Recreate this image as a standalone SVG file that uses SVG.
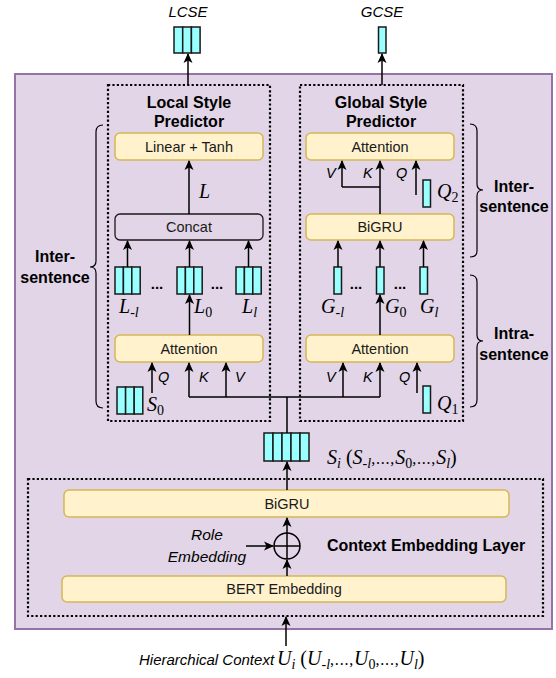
<svg xmlns="http://www.w3.org/2000/svg" width="556" height="678" viewBox="0 0 556 678">
<style>
.ybox{fill:#fff2cc;stroke:#d6b656;stroke-width:1.5}
.cbox{fill:none;stroke:#1a1a1a;stroke-width:1.3}
.vec{fill:#99ffff;stroke:#1a1a1a;stroke-width:1.5}
.dot{fill:none;stroke:#000;stroke-width:2.2;stroke-dasharray:2.2 2.2}
.ln{fill:none;stroke:#000;stroke-width:1.5}
.arr{marker-end:url(#ah)}
.br{fill:none;stroke:#000;stroke-width:1.2}
.t{font-family:"Liberation Sans",Arial,sans-serif;font-size:14.5px;fill:#1a1a1a;text-anchor:middle}
.b{font-family:"Liberation Sans",Arial,sans-serif;font-weight:bold;font-size:16px;fill:#000;text-anchor:middle}
.it{font-family:"Liberation Sans",Arial,sans-serif;font-style:italic;font-size:14.5px;fill:#000}
.m{font-family:"Liberation Serif","Times New Roman",serif;font-style:italic;font-size:20px;fill:#000}
.sub{font-size:14px}
.rm{font-style:normal}
.el{font-style:normal;font-size:16px;letter-spacing:0.8px}
</style>
<defs>
<marker id="ah" viewBox="0 0 10 10" refX="9" refY="5" markerWidth="10" markerHeight="10" markerUnits="userSpaceOnUse" orient="auto">
<path d="M0,0.5 L10,5 L0,9.5 L2.5,5 z" fill="#000"/>
</marker>
</defs>

<rect id="outer" x="15" y="74" width="537" height="555" fill="#e1d5e7" stroke="#9673a6" stroke-width="2"/>

<g id="local-style-predictor">
<rect class="dot" x="108" y="85" width="162" height="336"/>
<text class="b" x="189" y="108">Local Style</text>
<text class="b" x="189" y="127">Predictor</text>
</g>
<g id="global-style-predictor">
<rect class="dot" x="300" y="85" width="163" height="336"/>
<text class="b" x="381" y="108">Global Style</text>
<text class="b" x="381" y="127">Predictor</text>
</g>
<g id="context-embedding-layer">
<rect class="dot" x="28" y="479" width="515" height="137"/>
<text class="b" x="426" y="551">Context Embedding Layer</text>
</g>

<g id="lcse">
<text class="it" x="188" y="17" text-anchor="middle" style="font-size:15px">LCSE</text>
<rect class="vec" x="174" y="27" width="8.7" height="26"/>
<rect class="vec" x="182.7" y="27" width="8.7" height="26"/>
<rect class="vec" x="191.4" y="27" width="8.7" height="26"/>
</g>
<g id="gcse">
<text class="it" x="382" y="17" text-anchor="middle" style="font-size:15px">GCSE</text>
<rect class="vec" x="378.5" y="27" width="7.5" height="26"/>
</g>

<g id="linear-tanh"><rect class="ybox" x="115" y="133" width="148" height="27" rx="5"/><text class="t" x="189" y="151.5">Linear + Tanh</text></g>
<g id="concat"><rect class="cbox" x="115" y="214" width="148" height="26" rx="5"/><text class="t" x="189" y="232">Concat</text></g>
<g id="attention-local"><rect class="ybox" x="115" y="335" width="148" height="27" rx="5"/><text class="t" x="189" y="353.5">Attention</text></g>
<g id="attention-global-top"><rect class="ybox" x="306" y="133" width="148" height="27" rx="5"/><text class="t" x="380" y="151.5">Attention</text></g>
<g id="bigru-global"><rect class="ybox" x="306" y="214" width="148" height="26" rx="5"/><text class="t" x="380" y="232">BiGRU</text></g>
<g id="attention-global"><rect class="ybox" x="306" y="335" width="148" height="27" rx="5"/><text class="t" x="380" y="353.5">Attention</text></g>
<g id="bigru-context"><rect class="ybox" x="64" y="490" width="445" height="27" rx="5"/><text class="t" x="287" y="508.5">BiGRU</text></g>
<g id="bert-embedding"><rect class="ybox" x="62" y="576" width="444" height="26" rx="5"/><text class="t" x="284" y="594">BERT Embedding</text></g>
<g id="add">
<circle cx="287" cy="546" r="13" fill="none" stroke="#000" stroke-width="1.5"/>
<path class="ln" d="M274,546 H300 M287,533 V559"/>
</g>
<g id="role-embedding">
<text class="it" x="207" y="540" text-anchor="middle" style="font-size:15.5px">Role</text>
<text class="it" x="207" y="562" text-anchor="middle" style="font-size:15.5px">Embedding</text>
</g>

<g id="L-vectors">
<rect class="vec" x="115" y="267" width="8.4" height="27"/><rect class="vec" x="123.4" y="267" width="8.4" height="27"/><rect class="vec" x="131.8" y="267" width="8.4" height="27"/>
<rect class="vec" x="177" y="267" width="8.4" height="27"/><rect class="vec" x="185.4" y="267" width="8.4" height="27"/><rect class="vec" x="193.8" y="267" width="8.4" height="27"/>
<rect class="vec" x="236" y="267" width="8.4" height="27"/><rect class="vec" x="244.4" y="267" width="8.4" height="27"/><rect class="vec" x="252.8" y="267" width="8.4" height="27"/>
<text class="b" x="157" y="289" style="font-size:15px">...</text>
<text class="b" x="217" y="289" style="font-size:15px">...</text>
<text class="m" x="119" y="313">L<tspan class="sub rm" dy="4">-</tspan><tspan class="sub">l</tspan></text>
<text class="m" x="194" y="313">L<tspan class="sub rm" dy="4">0</tspan></text>
<text class="m" x="242" y="313">L<tspan class="sub" dy="4">l</tspan></text>
</g>
<g id="G-vectors">
<rect class="vec" x="334" y="267" width="7.5" height="27"/>
<rect class="vec" x="376.5" y="267" width="7.5" height="27"/>
<rect class="vec" x="420" y="267" width="7.5" height="27"/>
<text class="b" x="356" y="289" style="font-size:15px">...</text>
<text class="b" x="400" y="289" style="font-size:15px">...</text>
<text class="m" x="321" y="313">G<tspan class="sub rm" dy="4">-</tspan><tspan class="sub">l</tspan></text>
<text class="m" x="385" y="313">G<tspan class="sub rm" dy="4">0</tspan></text>
<text class="m" x="420" y="313">G<tspan class="sub" dy="4">l</tspan></text>
</g>
<g id="S0">
<rect class="vec" x="117" y="387" width="8.6" height="27"/><rect class="vec" x="125.6" y="387" width="8.6" height="27"/><rect class="vec" x="134.2" y="387" width="8.6" height="27"/>
<text class="m" x="147" y="411">S<tspan class="sub rm" dy="4">0</tspan></text>
</g>
<g id="Q1"><rect class="vec" x="423" y="386" width="7.5" height="27"/><text class="m" x="437" y="410">Q<tspan class="sub rm" dy="4">1</tspan></text></g>
<g id="Q2"><rect class="vec" x="423" y="180" width="7.5" height="27"/><text class="m" x="437" y="198">Q<tspan class="sub rm" dy="4">2</tspan></text></g>
<g id="Si">
<rect class="vec" x="264" y="433" width="9" height="28"/><rect class="vec" x="273" y="433" width="9" height="28"/><rect class="vec" x="282" y="433" width="9" height="28"/><rect class="vec" x="291" y="433" width="9" height="28"/><rect class="vec" x="300" y="433" width="9" height="28"/>
<text class="m" x="327" y="464">S<tspan class="sub" dy="4">i</tspan><tspan class="rm" dy="-4"> (</tspan>S<tspan class="sub rm" dy="4">-</tspan><tspan class="sub">l</tspan><tspan class="el" dy="-4">,...,</tspan>S<tspan class="sub rm" dy="4">0</tspan><tspan class="el" dy="-4">,...,</tspan>S<tspan class="sub" dy="4">l</tspan><tspan class="rm" dy="-4">)</tspan></text>
</g>
<g id="hierarchical-context">
<text class="it" x="139" y="665" style="font-size:15px">Hierarchical Context</text>
<text class="m" x="277" y="665">U<tspan class="sub" dy="4">i</tspan><tspan class="rm" dy="-4"> (</tspan>U<tspan class="sub rm" dy="4">-</tspan><tspan class="sub">l</tspan><tspan class="el" dy="-4">,...,</tspan>U<tspan class="sub rm" dy="4">0</tspan><tspan class="el" dy="-4">,...,</tspan>U<tspan class="sub" dy="4">l</tspan><tspan class="rm" dy="-4">)</tspan></text>
</g>

<g id="braces">
<path class="br" d="M103,125 Q96,125 96,132 V261 Q96,267 90,267 Q96,267 96,273 V401 Q96,408 103,408"/>
<text class="b" x="55" y="262">Inter-</text>
<text class="b" x="55" y="283">sentence</text>
<path class="br" d="M470,124 Q477,124 477,131 V184 Q477,190 483,190 Q477,190 477,196 V251 Q477,257 470,257"/>
<text class="b" x="514" y="192">Inter-</text>
<text class="b" x="514" y="212">sentence</text>
<path class="br" d="M470,275 Q477,275 477,282 V335 Q477,341 483,341 Q477,341 477,347 V400 Q477,407 470,407"/>
<text class="b" x="514" y="339">Intra-</text>
<text class="b" x="514" y="360">sentence</text>
</g>

<g id="connectors">
<line class="ln arr" x1="188" y1="85" x2="188" y2="54"/>
<line class="ln arr" x1="382" y1="85" x2="382" y2="54"/>
<line class="ln arr" x1="189" y1="214" x2="189" y2="161"/>
<text class="m" x="199" y="198">L</text>
<line class="ln arr" x1="127.5" y1="267" x2="127.5" y2="241"/>
<line class="ln arr" x1="189.5" y1="267" x2="189.5" y2="241"/>
<line class="ln arr" x1="248.5" y1="267" x2="248.5" y2="241"/>
<line class="ln arr" x1="189.5" y1="335" x2="189.5" y2="295"/>
<line class="ln arr" x1="152" y1="393" x2="152" y2="363"/>
<text class="it" x="158" y="382">Q</text>
<path class="ln" d="M189,397 H380"/>
<line class="ln arr" x1="189" y1="397" x2="189" y2="363"/>
<text class="it" x="199" y="382">K</text>
<line class="ln arr" x1="226" y1="397" x2="226" y2="363"/>
<text class="it" x="235" y="382">V</text>
<line class="ln arr" x1="343" y1="397" x2="343" y2="363"/>
<text class="it" x="326" y="382">V</text>
<line class="ln arr" x1="380" y1="397" x2="380" y2="363"/>
<text class="it" x="363" y="382">K</text>
<line class="ln arr" x1="417" y1="393" x2="417" y2="363"/>
<text class="it" x="399" y="382">Q</text>
<line class="ln" x1="287" y1="397" x2="287" y2="433"/>
<line class="ln arr" x1="380" y1="335" x2="380" y2="295"/>
<line class="ln arr" x1="338" y1="267" x2="338" y2="241"/>
<line class="ln arr" x1="380" y1="267" x2="380" y2="241"/>
<line class="ln arr" x1="423.5" y1="267" x2="423.5" y2="241"/>
<path class="ln" d="M342,187 H380"/>
<line class="ln arr" x1="342" y1="187" x2="342" y2="161"/>
<text class="it" x="326" y="178">V</text>
<line class="ln arr" x1="380" y1="214" x2="380" y2="161"/>
<text class="it" x="363" y="178">K</text>
<line class="ln arr" x1="416" y1="195" x2="416" y2="161"/>
<text class="it" x="396" y="178">Q</text>
<line class="ln arr" x1="287" y1="490" x2="287" y2="462"/>
<line class="ln arr" x1="287" y1="533" x2="287" y2="518"/>
<line class="ln arr" x1="287" y1="576" x2="287" y2="560"/>
<line class="ln arr" x1="246" y1="546" x2="273" y2="546"/>
<line class="ln arr" x1="286" y1="646" x2="286" y2="617"/>
</g>
</svg>
